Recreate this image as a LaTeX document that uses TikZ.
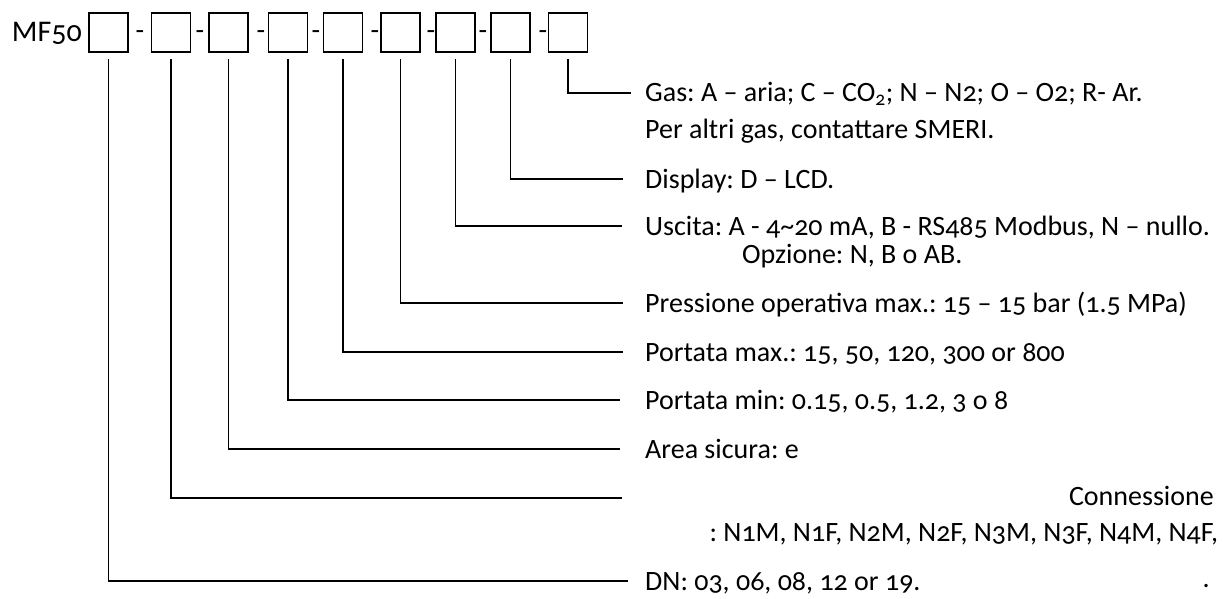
\documentclass[tikz,border=0pt]{standalone}
\usepackage{fontspec}
\setmainfont{Carlito}[Numbers=OldStyle]
\frenchspacing
\usepackage{tikz}

\begin{document}
\begin{tikzpicture}[x=1pt, y=-1pt,
    slot/.style={draw, line width=1.8pt, minimum width=39pt, minimum height=39pt, inner sep=0pt},
    desc/.style={anchor=west, inner sep=0pt, text height=18pt, text depth=0pt, font=\fontsize{28}{33}\selectfont},
    lead/.style={line width=1.8pt}]
            \useasboundingbox[fill=white] (0,0) rectangle (1228,599);

            \node[desc, anchor=east, font=\fontsize{30}{36}\selectfont] (mf) at (82,33) {MF50};
            \node[slot] (b1) at (108.5,32.5) {};
            \node[slot] (b2) at (171,32.5) {};
            \node[slot] (b3) at (228.5,32.5) {};
            \node[slot] (b4) at (288,32.5) {};
            \node[slot] (b5) at (343,32.5) {};
            \node[slot] (b6) at (400.5,32.5) {};
            \node[slot] (b7) at (455.5,32.5) {};
            \node[slot] (b8) at (510.5,32.5) {};
            \node[slot] (b9) at (568,32.5) {};

            \node[desc, anchor=center] (d1) at (140,31) {-};
            \node[desc, anchor=center] (d2) at (200,31) {-};
            \node[desc, anchor=center] (d3) at (261,31) {-};
            \node[desc, anchor=center] (d4) at (316,31) {-};
            \node[desc, anchor=center] (d5) at (375,31) {-};
            \node[desc, anchor=center] (d6) at (431,31) {-};
            \node[desc, anchor=center] (d7) at (483,31) {-};
            \node[desc, anchor=center] (d8) at (543,31) {-};

            \node[desc] (lgas) at (645,93) {Gas: A – aria; C – CO\textsubscript{2}; N – N2; O – O2; R- Ar.};
            \node[desc] (lgasb) at (645,130) {Per altri gas, contattare SMERI.};
            \node[desc] (ldisp) at (645,179) {Display: D – LCD.};
            \node[desc] (lout) at (645,226) {Uscita: A - 4\textasciitilde 20 mA, B - RS485 Modbus, N – nullo.};
            \node[desc] (loutb) at (742,254) {Opzione: N, B o AB.};
            \node[desc] (lpress) at (645,303) {Pressione operativa max.: 15 – 15 bar (1.5 MPa)};
            \node[desc] (lmax) at (645,352) {Portata max.: 15, 50, 120, 300 or 800};
            \node[desc] (lmin) at (645,400) {Portata min: 0.15, 0.5, 1.2, 3 o 8};
            \node[desc] (larea) at (645,449) {Area sicura: e};
            \node[desc, anchor=east] (lconn) at (1214,496) {Connessione};
            \node[desc, anchor=east] (lconnb) at (1218,532) {: N1M, N1F, N2M, N2F, N3M, N3F, N4M, N4F,};
            \node[desc, anchor=east] (ldot) at (1210,578) {.};
            \node[desc] (ldn) at (645,581) {DN: 03, 06, 08, 12 or 19.};
            \coordinate (cend) at (622,498);

            \draw[lead] (b9.south) ++(0,6) |- ([xshift=-14pt]lgas.west);
            \draw[lead] (b8.south) ++(0,6) |- ([xshift=-22pt]ldisp.west);
            \draw[lead] (b7.south) ++(0,6) |- ([xshift=-23pt]lout.west);
            \draw[lead] (b6.south) ++(0,6) |- ([xshift=-22pt]lpress.west);
            \draw[lead] (b5.south) ++(0,6) |- ([xshift=-22pt]lmax.west);
            \draw[lead] (b4.south) ++(0,6) |- ([xshift=-25pt]lmin.west);
            \draw[lead] (b3.south) ++(0,6) |- ([xshift=-25pt]larea.west);
            \draw[lead] (b2.south) ++(0,6) |- (cend);
            \draw[lead] (b1.south) ++(0,6) |- ([xshift=-17pt]ldn.west);
        \end{tikzpicture}
\end{document}
